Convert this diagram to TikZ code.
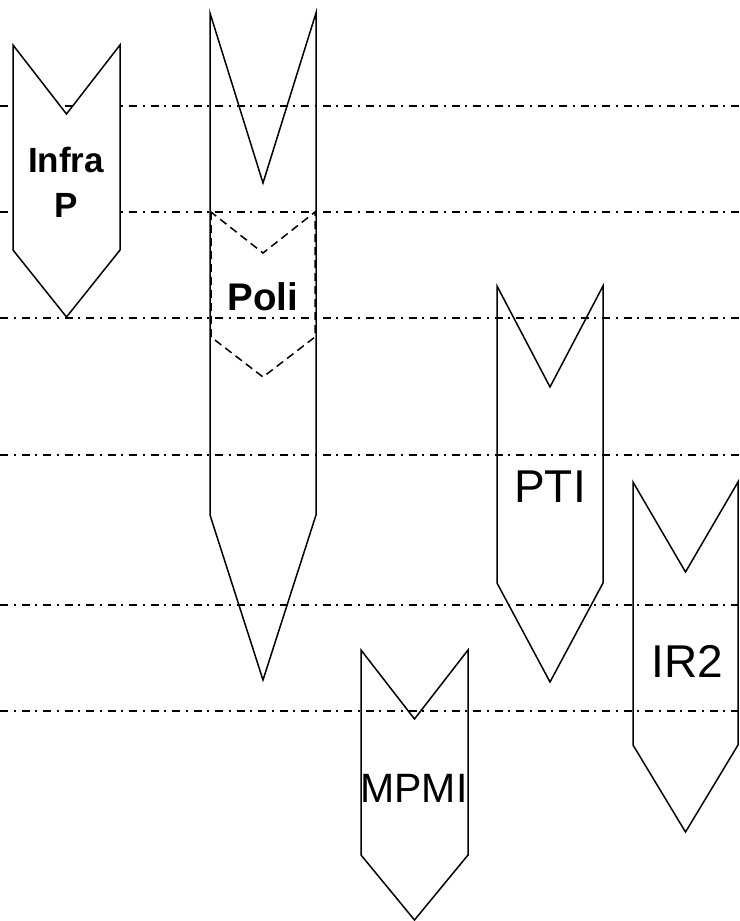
\documentclass[tikz,border=0pt]{standalone}
\usepackage{fontspec}
\setmainfont{Liberation Sans}
% arrow body: [style]{left}{right}{top}{notch}{shoulder}{tip}
\newcommand{\chevron}[7][]{%
\draw[#1](#2,#4)--(#2,#6)--({(#2+#3)/2},#7)--(#3,#6)--(#3,#4)--({(#2+#3)/2},#5)--cycle;}
\begin{document}
\begin{tikzpicture}[x=1pt,y=-1pt,line width=1.5pt,
guide/.style={line width=1.4pt,dash pattern=on 8pt off 5.5pt on 2pt off 6pt},
lbl/.style={inner sep=0pt}]
\useasboundingbox(0,0)rectangle(739,921);
% Poli, with its dashed part
\chevron{210}{316}{13}{183}{515}{680}
\chevron[dash pattern=on 8pt off 5pt,fill=white]{211}{315}{212}{253}{337}{377}
% guide lines
\foreach \y in {106,212,318,455,605,711}
\draw[guide](0,\y)--(739,\y);
\chevron[fill=white]{13}{120}{45}{114}{250}{317}
\chevron{497}{603}{286}{387}{583}{682}
\chevron{633}{738}{482}{572}{745}{832}
\chevron{361}{468}{650}{719}{855}{920}
\node[lbl,align=center,font=\fontsize{35}{45}\selectfont\bfseries](infra)at(66,182.5){Infra\\P};
\node[lbl,anchor=base,font=\fontsize{38.5}{46}\selectfont\bfseries](poli)at(263,310){Poli};
\node[lbl,anchor=base,font=\fontsize{46}{55}\selectfont](pti)at(550,502){PTI};
\node[lbl,anchor=base,font=\fontsize{46}{55}\selectfont](ir)at(687,677){IR2};
\node[lbl,anchor=base,font=\fontsize{41}{49}\selectfont](mpmi)at(414,802){MPMI};
\end{tikzpicture}
\end{document}
